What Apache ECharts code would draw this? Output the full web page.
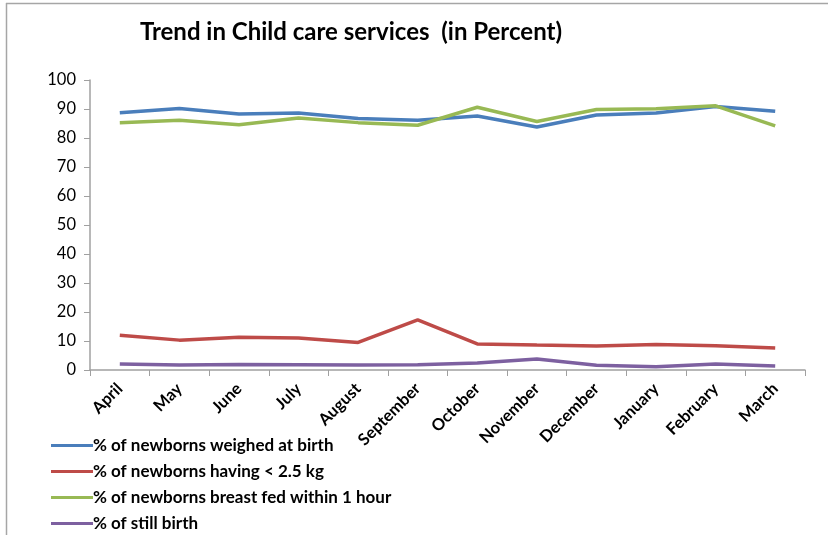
<!DOCTYPE html>
<html><head><meta charset="utf-8">
<script src="https://cdn.jsdelivr.net/npm/echarts@6/dist/echarts.min.js"></script>
<style>html,body{margin:0;padding:0;background:#fff}#c{width:828px;height:535px}</style>
</head><body><div id="c"></div>
<script>
const months = ["April","May","June","July","August","September","October","November","December","January","February","March"];
const weighed = [88.7, 90.2, 88.3, 88.6, 86.7, 86.1, 87.6, 83.8, 87.9, 88.6, 90.9, 89.2];
const lowWeight = [12.0, 10.3, 11.3, 11.0, 9.5, 17.3, 9.0, 8.6, 8.3, 8.8, 8.4, 7.6];
const breastFed = [85.3, 86.1, 84.6, 86.9, 85.3, 84.4, 90.6, 85.7, 89.8, 90.1, 91.1, 84.2];
const stillBirth = [2.1, 1.7, 1.9, 1.8, 1.7, 1.8, 2.4, 3.8, 1.6, 1.1, 2.1, 1.4];
const seriesNames = ["% of newborns weighed at birth","% of newborns having < 2.5 kg","% of newborns breast fed within 1 hour","% of still birth"];
const colors = ["#4a7ebb","#be4b48","#98b954","#7d60a0"];
const yTicks = [0,10,20,30,40,50,60,70,80,90,100];

const font = "Lato, 'Open Sans', sans-serif";
const chart = echarts.init(document.getElementById('c'), null, {renderer:'canvas'});
const mk = (i, d) => ({name: seriesNames[i], type:'line', data:d, symbol:'none',
  lineStyle:{width:3.5, color:colors[i]}, itemStyle:{color:colors[i]}});
chart.setOption({
  animation:false,
  color: colors,
  title:{text:"Trend in Child care services  (in Percent)", left:346, top:15, textAlign:'center',
    textStyle:{fontFamily:font, fontWeight:'bold', fontSize:24, color:'#000'}},
  grid:{left:90, right:23, top:80, bottom:165},
  legend:{orient:'vertical', left:46, top:432, height:140, itemGap:9, itemWidth:42, itemHeight:18,
    icon:'path://M0,7.5 L42,7.5 L42,10.5 L0,10.5 Z',
    textStyle:{fontFamily:font, fontWeight:'bold', fontSize:17, color:'#000', padding:[0,0,0,-5]},
    data: seriesNames},
  xAxis:{type:'category', data:months, boundaryGap:true,
    axisLine:{lineStyle:{color:'#a0a0a0', width:1.5}},
    axisTick:{show:true, length:6, lineStyle:{color:'#a0a0a0'}},
    axisLabel:{rotate:45, fontFamily:font, fontWeight:'bold', fontSize:16.5, color:'#000', margin:16, interval:0}},
  yAxis:{type:'value', min:0, max:100, interval:10,
    axisLine:{show:true, lineStyle:{color:'#a0a0a0', width:1.5}},
    axisTick:{show:true, length:6, lineStyle:{color:'#a0a0a0'}},
    splitLine:{show:false},
    axisLabel:{fontFamily:font, fontSize:16.5, color:'#000', margin:14,
      formatter:v => yTicks.includes(v) ? String(v) : ''}},
  graphic:[
    {type:'line', shape:{x1:6.5,y1:3,x2:6.5,y2:535}, style:{stroke:'#a6a6a6', lineWidth:1.5}},
    {type:'line', shape:{x1:6,y1:3.5,x2:828,y2:3.5}, style:{stroke:'#a6a6a6', lineWidth:1.5}}
  ],
  series:[mk(0,weighed), mk(1,lowWeight), mk(2,breastFed), mk(3,stillBirth)]
});
</script></body></html>
